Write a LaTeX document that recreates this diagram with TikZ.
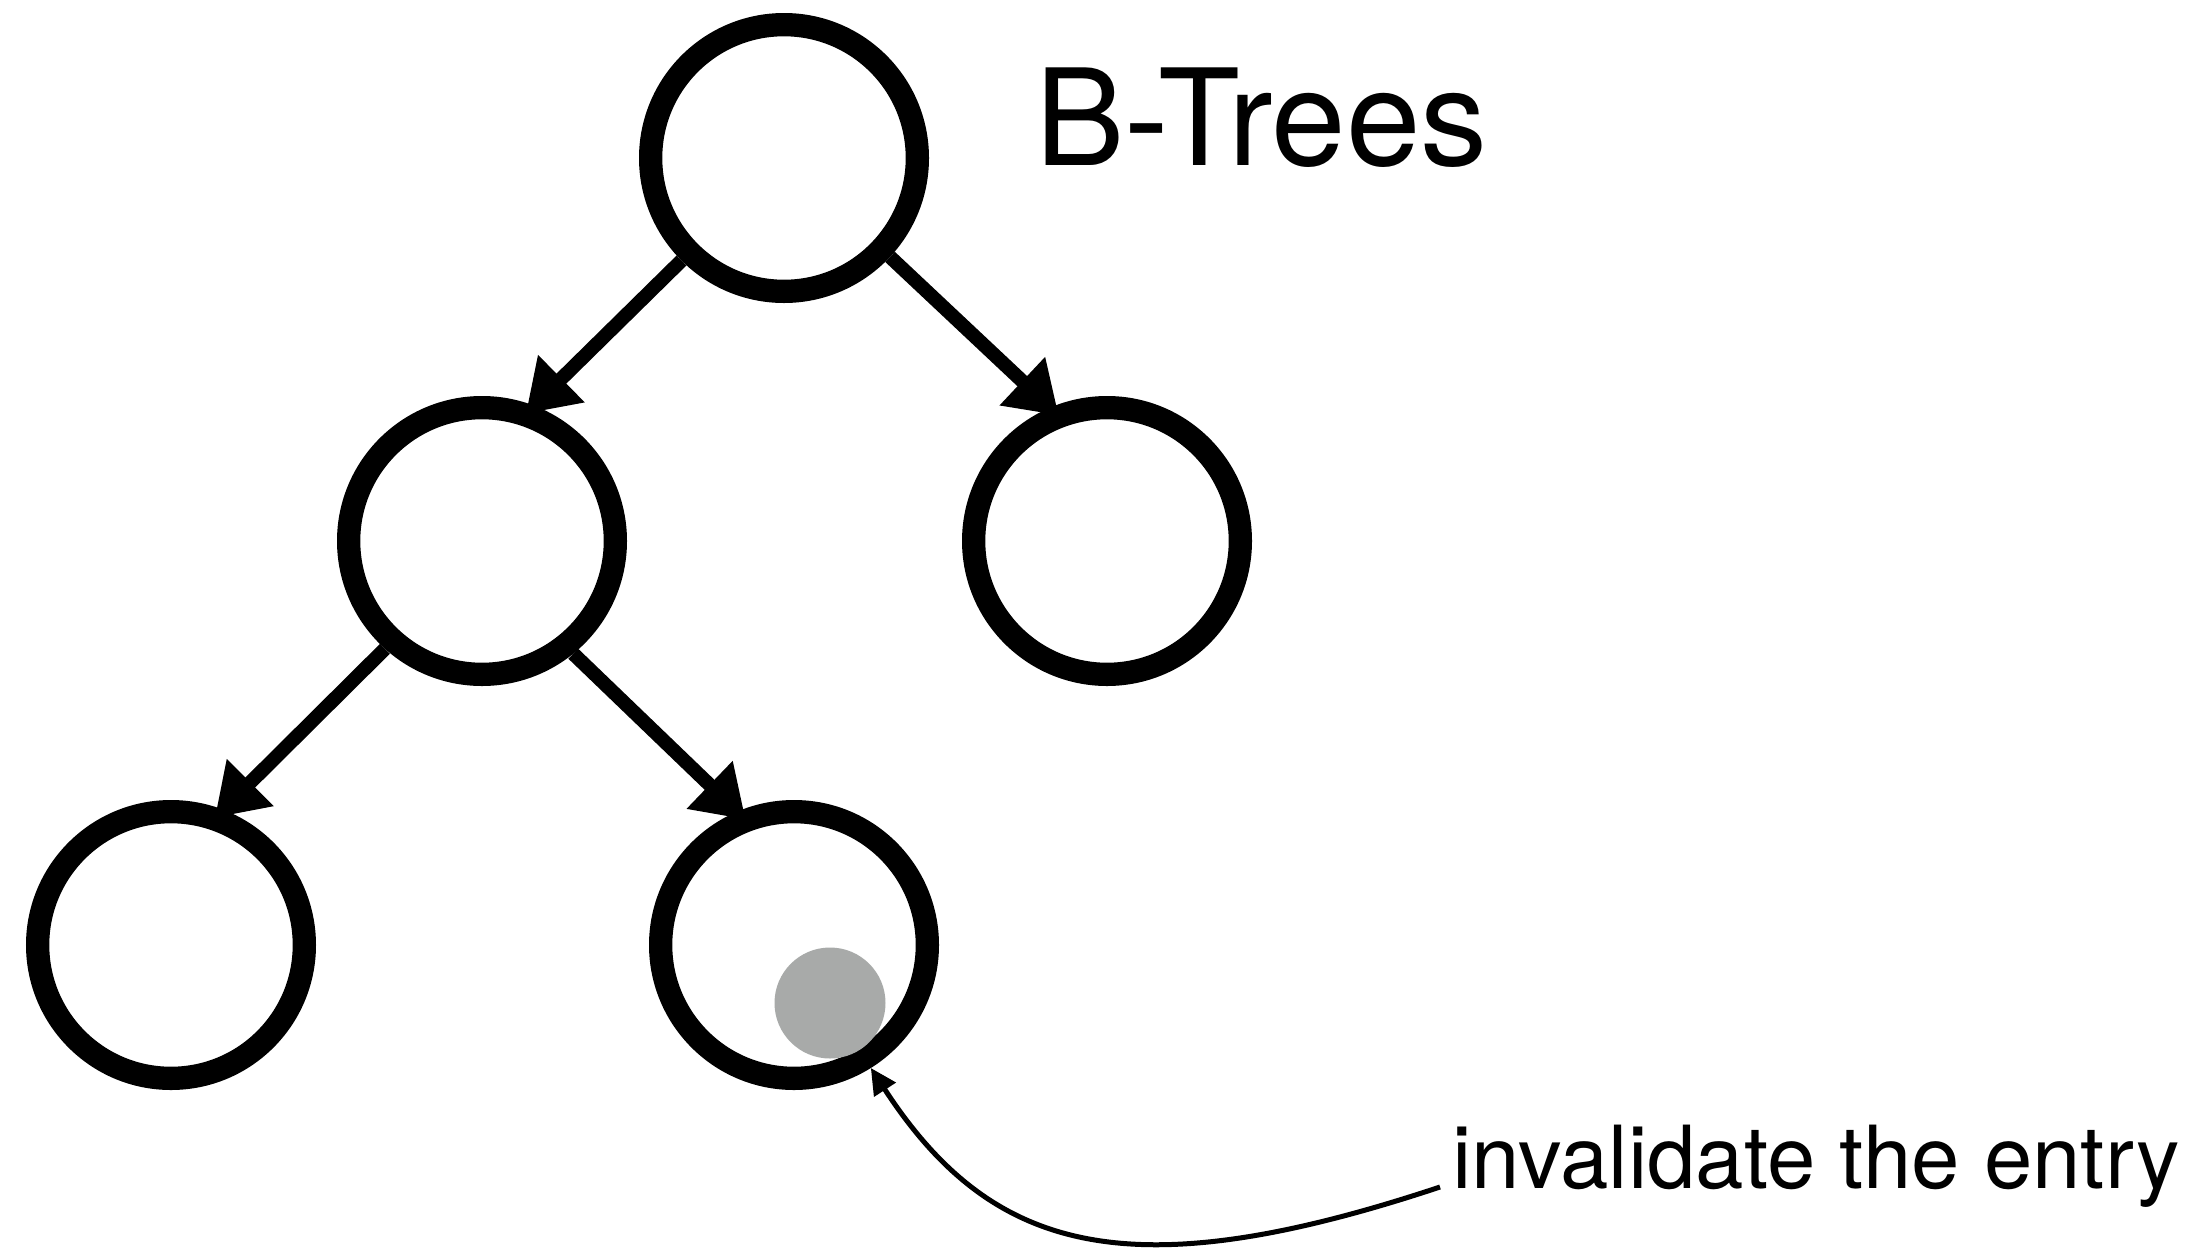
\documentclass[tikz,border=0pt]{standalone}
\usepackage{fontspec}
\setmainfont{TeX Gyre Heros}
\usetikzlibrary{arrows.meta}
\pgfdeclarelayer{bg}
\pgfsetlayers{bg,main}
\definecolor{dotgrey}{RGB}{168,170,169}
\begin{document}
\begin{tikzpicture}[x=1pt,y=-1pt,
  bnode/.style={circle, draw, line width=23.3pt, minimum size=266.7pt, inner sep=0pt, fill=white},
  tree/.style={line width=14pt, -{Triangle[length=50pt,width=63pt]}, shorten >=-11.5pt},
  note/.style={line width=5pt, -{Triangle[length=26pt,width=25pt]}},
  entry/.style={circle, fill=dotgrey, minimum size=111pt, inner sep=0pt}]
\useasboundingbox (0,0) rectangle (2192,1248);
\node[bnode] (root) at (784,158) {};
\node[bnode] (midL) at (482,541) {};
\node[bnode] (midR) at (1107,541) {};
\node[bnode] (botL) at (171,945) {};
\node[bnode] (botM) at (794,945) {};
\node[entry] (dot) at (830,1003) {};
\node[anchor=base west, inner sep=0pt, font=\fontsize{134}{160}\selectfont] (title) at (1035,165) {B-Trees};
\node[anchor=base west, inner sep=0pt, font=\fontsize{87}{100}\selectfont] (lab) at (1452,1188) {invalidate the entry};
\begin{pgfonlayer}{bg}
\draw[tree] (root.225) -- (midL.69.5);
\draw[tree] (root.317.5) -- (midR.113.5);
\draw[tree] (midL.228) -- (botL.69.8);
\draw[tree] (midL.309) -- (botM.113.5);
\end{pgfonlayer}
\draw[note] ([shift={(-12,-1)}]lab.base west) .. controls (1130,1290) and (992,1254) .. (botM.302);
\end{tikzpicture}
\end{document}
